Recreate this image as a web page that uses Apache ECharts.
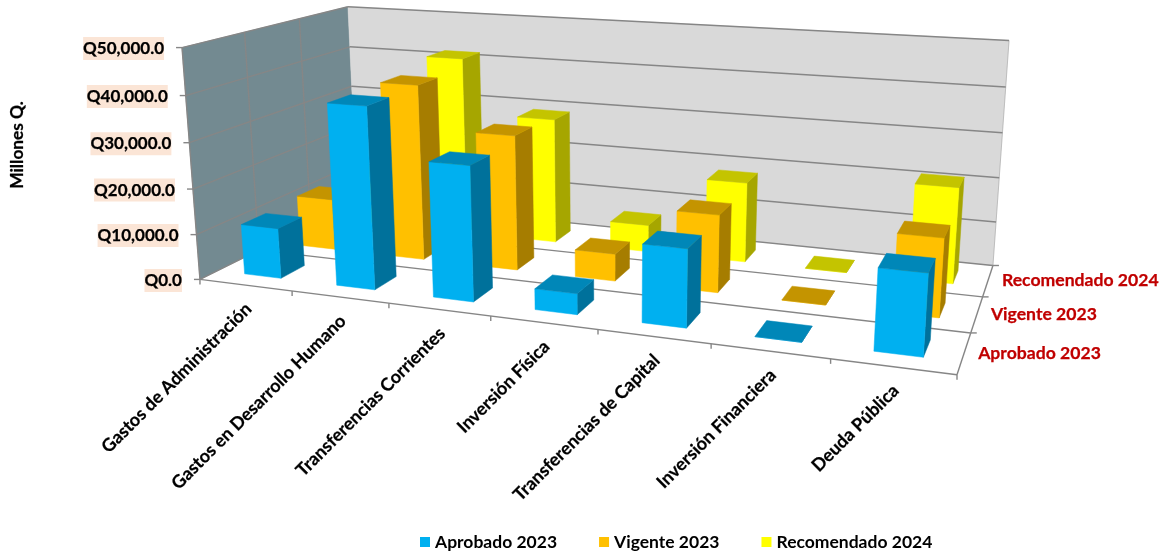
<!DOCTYPE html>
<html><head><meta charset="utf-8">
<style>html,body{margin:0;padding:0;background:#fff}#c{width:1164px;height:554px}</style>
<script src="https://cdn.jsdelivr.net/npm/echarts@6/dist/echarts.min.js"></script>
</head><body><div id="c"></div>
<script>
const categories = ['Gastos de Administración','Gastos en Desarrollo Humano','Transferencias Corrientes','Inversión Física','Transferencias de Capital','Inversión Financiera','Deuda Pública'];
const aprobado2023 = [11100, 39200, 28700, 4400, 16100, 0, 16250];
const vigente2023 = [11700, 39500, 30000, 6000, 16800, 0, 16500];
const recomendado2024 = [11500, 41700, 29000, 6200, 18100, 0, 21100];
const seriesNames = ['Aprobado 2023','Vigente 2023','Recomendado 2024'];
const yTickValues = [0,10000,20000,30000,40000,50000];
const yTickLabels = ['Q0.0','Q10,000.0','Q20,000.0','Q30,000.0','Q40,000.0','Q50,000.0'];
const yTitle = 'Millones Q.';

const FONT = 'Lato';
const GRID = '#868686';
// camera fit: box corners (u along categories, w depth, h height) -> screen
const fit = [
 [0,0,0,200,278],[0,0,1,182,48],[1,0,0,957,376],
 [1,1,0,993,264],[1,1,1,1009,41],[0,1,0,357,203],[0,1,1,348,6]
];
function solve(A,b){
  const n=b.length, M=A.map((r,i)=>r.concat(b[i]));
  for(let i=0;i<n;i++){
    let p=i; for(let r=i+1;r<n;r++) if(Math.abs(M[r][i])>Math.abs(M[p][i])) p=r;
    [M[i],M[p]]=[M[p],M[i]];
    for(let r=0;r<n;r++) if(r!==i){const f=M[r][i]/M[i][i]; for(let c=i;c<=n;c++) M[r][c]-=f*M[i][c];}
  }
  return M.map((r,i)=>r[n]/r[i]);
}
const P=(function(){
  const rows=[],rhs=[];
  fit.forEach(([u,w,h,x,y])=>{
    rows.push([u,w,h,1,0,0,0,0,-x*u,-x*w,-x*h]);rhs.push(x);
    rows.push([0,0,0,0,u,w,h,1,-y*u,-y*w,-y*h]);rhs.push(y);
  });
  const n=11,A=[],b=[];
  for(let i=0;i<n;i++){A.push(new Array(n).fill(0));b.push(0);
    for(let j=0;j<n;j++) for(let k=0;k<rows.length;k++) A[i][j]+=rows[k][i]*rows[k][j];
    for(let k=0;k<rows.length;k++) b[i]+=rows[k][i]*rhs[k];
  }
  return solve(A,b);
})();
function proj(u,w,h){
  const d=P[8]*u+P[9]*w+P[10]*h+1;
  return [(P[0]*u+P[1]*w+P[2]*h+P[3])/d,(P[4]*u+P[5]*w+P[6]*h+P[7])/d];
}
const BAR_W=0.40, BAR_D=0.42, ROWS=3;
const barFaces=[
 {front:'#00B0F0',side:'#00719B',top:'#0087B8'},
 {front:'#FFC000',side:'#A67D00',top:'#C49400'},
 {front:'#FFFF00',side:'#A6A600',top:'#C4C400'}
];
function poly(pts,fill,stroke){
  return {type:'polygon',shape:{points:pts},style:{fill:fill,stroke:stroke||fill,lineWidth:stroke?0.6:0.5}};
}
function line(a,b,w){return {type:'line',shape:{x1:a[0],y1:a[1],x2:b[0],y2:b[1]},style:{stroke:GRID,lineWidth:w||1.4,fill:null}};}
function norm(api,params,cat,val){
  const c=api.coord([cat,val]),s=params.coordSys;
  return {u:(c[0]-s.x)/s.width,h:(s.y+s.height-c[1])/s.height,bw:api.size([1,0])[0]/s.width};
}
function renderBar(row){return function(params,api){
  const n=norm(api,params,api.value(0),api.value(1));
  const u0=n.u-n.bw*BAR_W/2,u1=n.u+n.bw*BAR_W/2;
  const wc=(row+0.5)/ROWS,w0=wc-BAR_D/ROWS/2,w1=wc+BAR_D/ROWS/2,h=n.h;
  const c=barFaces[row],ch=[];
  ch.push(poly([proj(u1,w0,0),proj(u1,w1,0),proj(u1,w1,h),proj(u1,w0,h)],c.side));
  ch.push(poly([proj(u0,w0,0),proj(u1,w0,0),proj(u1,w0,h),proj(u0,w0,h)],c.front));
  ch.push(poly([proj(u0,w0,h),proj(u1,w0,h),proj(u1,w1,h),proj(u0,w1,h)],c.top));
  return {type:'group',children:ch};
};}
function renderFrame(params,api){
  const ch=[];
  ch.push(poly([proj(0,0,0),proj(0,1,0),proj(0,1,1),proj(0,0,1)],'#738A91'));
  ch.push(poly([proj(0,1,0),proj(1,1,0),proj(1,1,1),proj(0,1,1)],'#D9D9D9'));
  yTickValues.forEach((v,i)=>{
    const h=norm(api,params,0,v).h;
    if(i>0){ ch.push(line(proj(0,0,h),proj(0,1,h))); ch.push(line(proj(0,1,h),proj(1,1,h))); }
  });
  [1,2].forEach(k=>ch.push(line(proj(0,k/ROWS,0),proj(0,k/ROWS,1))));
  ch.push(line(proj(0,0,0),proj(0,0,1)));
  ch.push(line(proj(1,1,0),proj(1,1,1),0.4));
  for(let k=0;k<=ROWS;k++){
    ch.push(line(proj(0,k/ROWS,0),proj(1,k/ROWS,0)));
  }
  ch.push(line(proj(0,0,0),proj(0,1,0)));
  ch.push(line(proj(1,0,0),proj(1,1,0)));
  // category ticks
  for(let i=0;i<=categories.length;i++){
    const p=proj(i/categories.length,0,0);
    ch.push(line(p,[p[0],p[1]+5]));
  }
  // depth ticks
  for(let k=1;k<=ROWS;k++){
    const p=proj(1,k/ROWS,0);
    ch.push(line(p,[p[0]+6,p[1]]));
  }
  return {type:'group',children:ch};
}
function renderText(params,api){
  const ch=[];
  const heavy={stroke:'#000',lineWidth:0.25};
  yTickValues.forEach((v,i)=>{
    const h=norm(api,params,0,v).h,p=proj(0,0,h);
    ch.push(line(p,[p[0]-6,p[1]]));
    ch.push({type:'text',x:p[0]-18,y:p[1]+1,style:Object.assign({text:yTickLabels[i],fontFamily:FONT,fontWeight:'bold',fontSize:17,fill:'#000',align:'right',verticalAlign:'middle',backgroundColor:'#FBE5D6',padding:[3,0,3,0]},heavy)});
  });
  categories.forEach((c,i)=>{
    const p=proj((i+0.5)/categories.length,0,0);
    ch.push({type:'text',x:p[0]+3,y:p[1]+21,rotation:Math.PI/4,style:Object.assign({text:c,fontFamily:FONT,fontWeight:'bold',fontSize:17.9,fill:'#000',align:'right',verticalAlign:'middle'},heavy)});
  });
  seriesNames.forEach((s,j)=>{
    const p=proj(1,(j+0.5)/ROWS,0);
    ch.push({type:'text',x:p[0]+14,y:p[1],style:{text:s,fontFamily:FONT,fontWeight:'bold',fontSize:17.6,fill:'#C00000',stroke:'#C00000',lineWidth:0.25,align:'left',verticalAlign:'middle'}});
  });
  ch.push({type:'text',x:17,y:145,rotation:Math.PI/2,style:Object.assign({text:yTitle,fontFamily:FONT,fontWeight:'bold',fontSize:17.3,fill:'#000',align:'center',verticalAlign:'middle'},heavy)});
  return {type:'group',children:ch};
}
const rowsData=[aprobado2023,vigente2023,recomendado2024];
function barSeries(row){
  return {type:'custom',name:seriesNames[row],coordinateSystem:'cartesian2d',z:5+(ROWS-row),clip:false,
    itemStyle:{color:barFaces[row].front},encode:{x:0,y:1},
    data:rowsData[row].map((v,i)=>[i,v]),renderItem:renderBar(row),silent:true};
}
const chart=echarts.init(document.getElementById('c'));
chart.setOption({
  animation:false,backgroundColor:'#fff',
  grid:{left:100,right:100,top:100,bottom:100},
  xAxis:{type:'category',data:categories,show:false},
  yAxis:{type:'value',min:0,max:50000,interval:10000,show:false},
  legend:{left:420,top:533,padding:0,icon:'rect',itemWidth:10,itemHeight:10,itemGap:42,selectedMode:false,
    data:seriesNames,textStyle:{fontFamily:FONT,fontWeight:'bold',fontSize:17.5,color:'#000',padding:[0,0,0,0]}},
  series:[
    {type:'custom',name:'frame',z:1,clip:false,silent:true,coordinateSystem:'cartesian2d',encode:{x:0,y:1},data:[[0,0]],renderItem:renderFrame},
    barSeries(2),barSeries(1),barSeries(0),
    {type:'custom',name:'labels',z:20,clip:false,silent:true,coordinateSystem:'cartesian2d',encode:{x:0,y:1},data:[[0,0]],renderItem:renderText}
  ]
});
</script></body></html>
